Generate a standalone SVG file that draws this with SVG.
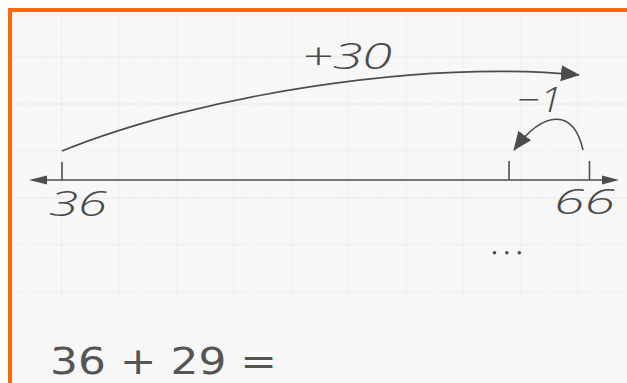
<svg xmlns="http://www.w3.org/2000/svg" width="627" height="383" viewBox="0 0 627 383">
  <defs>
    <marker id="ahBig" viewBox="0 0 10 10" refX="9.5" refY="5" markerWidth="19" markerHeight="16" markerUnits="userSpaceOnUse" orient="auto" preserveAspectRatio="none">
      <path d="M0,0 L10,5 L0,10 Z" fill="#4d4d4d"/>
    </marker>
    <pattern id="grid" x="4.6" y="10" width="57.4" height="47" patternUnits="userSpaceOnUse">
      <path d="M57.4,0 V47 M0,47 H57.4" fill="none" stroke="#e3e3e3" stroke-width="1.2" stroke-dasharray="2 1"/>
    </pattern>
  </defs>
  <style>
    .line { fill: none; stroke: #4d4d4d; stroke-width: 1.6; }
    .hand { font-family: "Open Sans", "DejaVu Sans", sans-serif; font-weight: 300; font-style: italic; fill: #4a4a4a; }
    .print { font-family: "DejaVu Sans", "Liberation Sans", sans-serif; fill: #555555; }
  </style>
  <rect width="627" height="383" fill="#ffffff"/>
  <rect x="8" y="8" width="619" height="375" fill="#f7f7f7"/>
  <rect x="12" y="12" width="615" height="285" fill="url(#grid)"/>
  <rect x="8" y="8" width="619" height="4" fill="#f86a10"/>
  <rect x="8" y="8" width="4" height="375" fill="#f86a10"/>

  <g id="numberline">
    <line class="line" x1="32" y1="180" x2="616" y2="180"/>
    <path d="M29,180 L47,175.5 L47,184.5 Z" fill="#4d4d4d"/>
    <path d="M619,180 L602,175.5 L602,184.5 Z" fill="#4d4d4d"/>
    <line class="line" x1="62" y1="162" x2="62" y2="180"/>
    <line class="line" x1="509" y1="161" x2="509" y2="180"/>
    <line class="line" x1="589.5" y1="161" x2="589.5" y2="180"/>
  </g>

  <g id="label-36"><text class="hand" x="49" y="216" font-size="34" textLength="58" lengthAdjust="spacingAndGlyphs">36</text></g>
  <g id="label-66"><text class="hand" x="554" y="214" font-size="34" textLength="61" lengthAdjust="spacingAndGlyphs">66</text></g>

  <g id="connectors">
    <path class="line" d="M62,151 C200,95 420,60 579,75" marker-end="url(#ahBig)"/>
    <path class="line" d="M583,150 C574,110 545,108 514,150" marker-end="url(#ahBig)"/>
  </g>

  <g id="label-plus30"><text class="hand" x="302" y="69" font-size="36" textLength="90" lengthAdjust="spacingAndGlyphs">+30</text></g>
  <g id="label-minus1"><text class="hand" x="517" y="112" font-size="35" textLength="45" lengthAdjust="spacingAndGlyphs">−1</text></g>

  <g id="dots" fill="#4d4d4d">
    <circle cx="494.5" cy="252.7" r="1.8"/>
    <circle cx="506.8" cy="252.7" r="1.8"/>
    <circle cx="519.3" cy="252.7" r="1.8"/>
  </g>

  <g id="equation"><text class="print" x="50" y="374" font-size="38" textLength="227" lengthAdjust="spacingAndGlyphs">36 + 29 =</text></g>
</svg>
